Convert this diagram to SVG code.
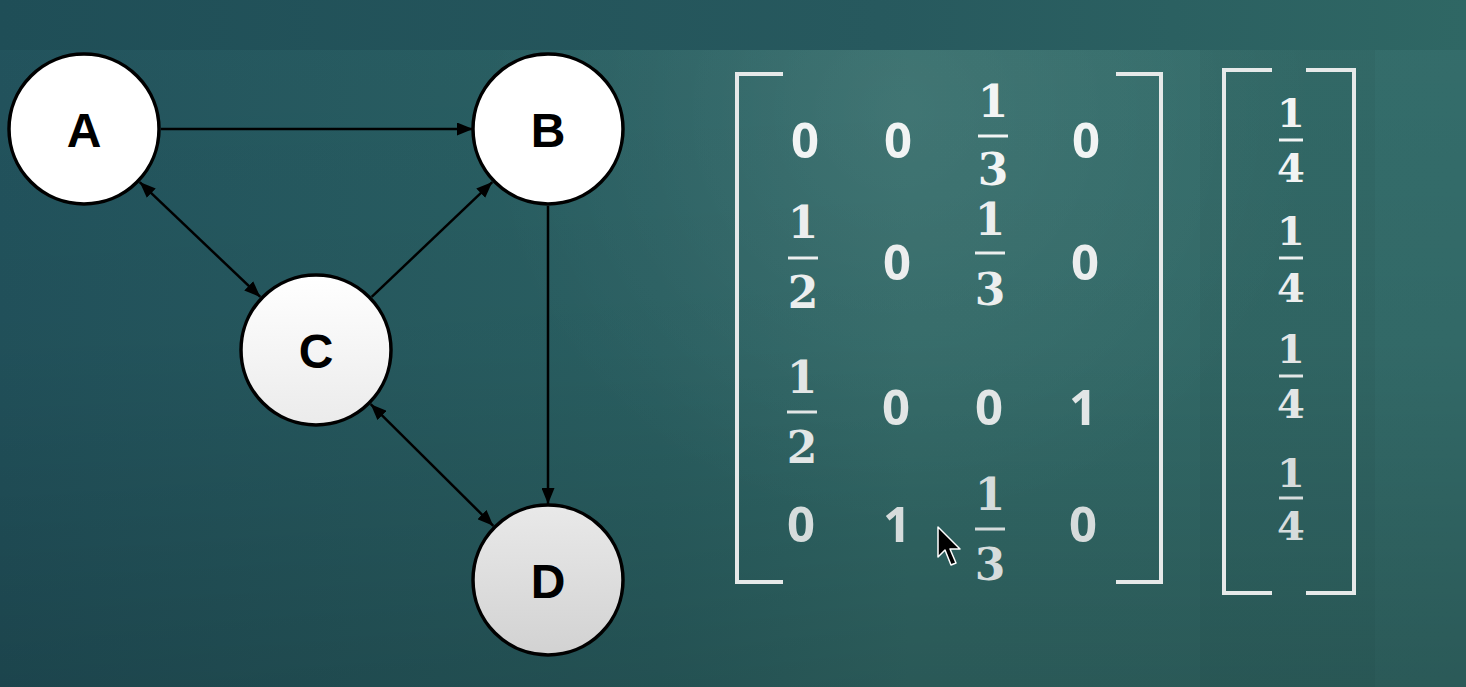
<svg xmlns="http://www.w3.org/2000/svg" width="1466" height="687" viewBox="0 0 1466 687">
<defs>
<linearGradient id="bgh" x1="0" y1="0" x2="1466" y2="0" gradientUnits="userSpaceOnUse">
<stop offset="0" stop-color="#22535d"/>
<stop offset="0.45" stop-color="#2b6264"/>
<stop offset="0.62" stop-color="#336c6a"/>
<stop offset="1" stop-color="#346d6b"/>
</linearGradient>
<linearGradient id="bgv" x1="0" y1="0" x2="0" y2="687" gradientUnits="userSpaceOnUse">
<stop offset="0" stop-color="#000" stop-opacity="0"/>
<stop offset="0.5" stop-color="#000" stop-opacity="0.04"/>
<stop offset="1" stop-color="#000" stop-opacity="0.18"/>
</linearGradient>
<radialGradient id="hl" cx="900" cy="110" r="420" gradientUnits="userSpaceOnUse">
<stop offset="0" stop-color="#fff" stop-opacity="0.07"/>
<stop offset="1" stop-color="#fff" stop-opacity="0"/>
</radialGradient>
<linearGradient id="band" x1="0" y1="0" x2="1" y2="0">
<stop offset="0" stop-color="#1f4e57"/>
<stop offset="0.6" stop-color="#27595e"/>
<stop offset="1" stop-color="#2f6764"/>
</linearGradient>
<linearGradient id="gc" x1="0" y1="0" x2="0" y2="1">
<stop offset="0" stop-color="#ffffff"/>
<stop offset="1" stop-color="#ebebeb"/>
</linearGradient>
<linearGradient id="gd" x1="0" y1="0" x2="0" y2="1">
<stop offset="0" stop-color="#e9e9e9"/>
<stop offset="1" stop-color="#d2d2d2"/>
</linearGradient>
<marker id="ah" markerUnits="userSpaceOnUse" markerWidth="16" markerHeight="13" refX="16" refY="6.5" orient="auto-start-reverse">
<path d="M0,0 L16,6.5 L0,13 z" fill="#000"/>
</marker>
<style>
.node{stroke:#000;stroke-width:3.5}
.lbl{font-family:"Liberation Sans",Arial,sans-serif;font-weight:bold;font-size:48px;text-anchor:middle;fill:#000}
.edge{stroke:#000;stroke-width:2.5;fill:none}
.br{stroke:#e6e9e9;stroke-width:4;fill:none}
.num{font-family:"Open Sans","Liberation Sans",sans-serif;font-weight:bold;font-size:49px;text-anchor:middle}
.fr{font-family:"DejaVu Serif","Liberation Serif",serif;font-weight:bold;font-size:44px;text-anchor:middle}
.fv{font-family:"DejaVu Serif","Liberation Serif",serif;font-weight:bold;font-size:40px;text-anchor:middle}
.bar{stroke-width:3}
.r1{fill:#f2f4f4;stroke:#f2f4f4}
.r2{fill:#eceeee;stroke:#eceeee}
.r3{fill:#e2e6e6;stroke:#e2e6e6}
.r4{fill:#d6dcdc;stroke:#d6dcdc}
text.r1,text.r2,text.r3,text.r4{stroke:none}
</style>
</defs>

<rect x="0" y="0" width="1466" height="687" fill="url(#bgh)"/>
<rect x="0" y="0" width="1466" height="687" fill="url(#bgv)"/>
<rect x="0" y="0" width="1466" height="687" fill="url(#hl)"/>
<rect x="0" y="0" width="1466" height="50" fill="url(#band)"/>
<rect x="1200" y="50" width="175" height="637" fill="#000000" opacity="0.03"/>

<g id="connectors">
<line class="edge" x1="161" y1="129" x2="473" y2="129" marker-end="url(#ah)"/>
<line class="edge" x1="139.7" y1="182.1" x2="260.3" y2="296.9" marker-start="url(#ah)" marker-end="url(#ah)"/>
<line class="edge" x1="371.7" y1="296.9" x2="492.3" y2="182.1" marker-end="url(#ah)"/>
<line class="edge" x1="548" y1="206" x2="548" y2="504" marker-end="url(#ah)"/>
<line class="edge" x1="370.7" y1="404.2" x2="493.3" y2="525.8" marker-start="url(#ah)" marker-end="url(#ah)"/>
</g>

<g id="node-A"><circle class="node" cx="84" cy="129" r="75" fill="#ffffff"/><text class="lbl" x="84" y="147">A</text></g>
<g id="node-B"><circle class="node" cx="548" cy="129" r="75" fill="#ffffff"/><text class="lbl" x="548" y="147">B</text></g>
<g id="node-C"><circle class="node" cx="316" cy="350" r="75" fill="url(#gc)"/><text class="lbl" x="316" y="368">C</text></g>
<g id="node-D"><circle class="node" cx="548" cy="580" r="75" fill="url(#gd)"/><text class="lbl" x="548" y="598">D</text></g>

<g id="matrix">
<path class="br" d="M783,74 H737 V582 H783"/>
<path class="br" d="M1116,74 H1161 V582 H1116"/>
<text class="num r1" x="805" y="158">0</text>
<text class="num r1" x="898" y="158">0</text>
<text class="fr r1" x="993" y="117">1</text>
<line class="bar r1" x1="978" y1="136" x2="1008" y2="136"/>
<text class="fr r1" x="993" y="185">3</text>
<text class="num r1" x="1086" y="158">0</text>
<text class="fr r2" x="803" y="238">1</text>
<line class="bar r2" x1="788" y1="258" x2="818" y2="258"/>
<text class="fr r2" x="803" y="308">2</text>
<text class="num r2" x="897" y="280">0</text>
<text class="fr r2" x="990" y="235">1</text>
<line class="bar r2" x1="975" y1="253" x2="1005" y2="253"/>
<text class="fr r2" x="990" y="305">3</text>
<text class="num r2" x="1085" y="280">0</text>
<text class="fr r3" x="802" y="393">1</text>
<line class="bar r3" x1="787" y1="412" x2="817" y2="412"/>
<text class="fr r3" x="802" y="463">2</text>
<text class="num r3" x="896" y="425">0</text>
<text class="num r3" x="989" y="425">0</text>
<text class="num r3" x="1083" y="425">1</text>
<text class="num r4" x="801" y="542">0</text>
<text class="num r4" x="897" y="542">1</text>
<text class="fr r4" x="990" y="510">1</text>
<line class="bar r4" x1="975" y1="529" x2="1005" y2="529"/>
<text class="fr r4" x="990" y="580">3</text>
<text class="num r4" x="1083" y="542">0</text>
</g>

<g id="vector">
<path class="br" d="M1272,70 H1224 V593 H1272"/>
<path class="br" d="M1306,70 H1354 V593 H1306"/>
<text class="fv r1" x="1291" y="127">1</text>
<line class="bar r1" x1="1279" y1="140" x2="1303" y2="140"/>
<text class="fv r1" x="1291" y="182">4</text>
<text class="fv r2" x="1291" y="245">1</text>
<line class="bar r2" x1="1279" y1="258" x2="1303" y2="258"/>
<text class="fv r2" x="1291" y="302">4</text>
<text class="fv r3" x="1291" y="363">1</text>
<line class="bar r3" x1="1279" y1="376" x2="1303" y2="376"/>
<text class="fv r3" x="1291" y="418">4</text>
<text class="fv r4" x="1291" y="487">1</text>
<line class="bar r4" x1="1279" y1="498" x2="1303" y2="498"/>
<text class="fv r4" x="1291" y="540">4</text>
</g>

<g id="cursor">
<path d="M938,527 L938,557 L945,550 L951,565 L956,563 L950,549 L960,549 Z" fill="#000" stroke="#fff" stroke-width="1.5" stroke-linejoin="round"/>
</g>
</svg>
